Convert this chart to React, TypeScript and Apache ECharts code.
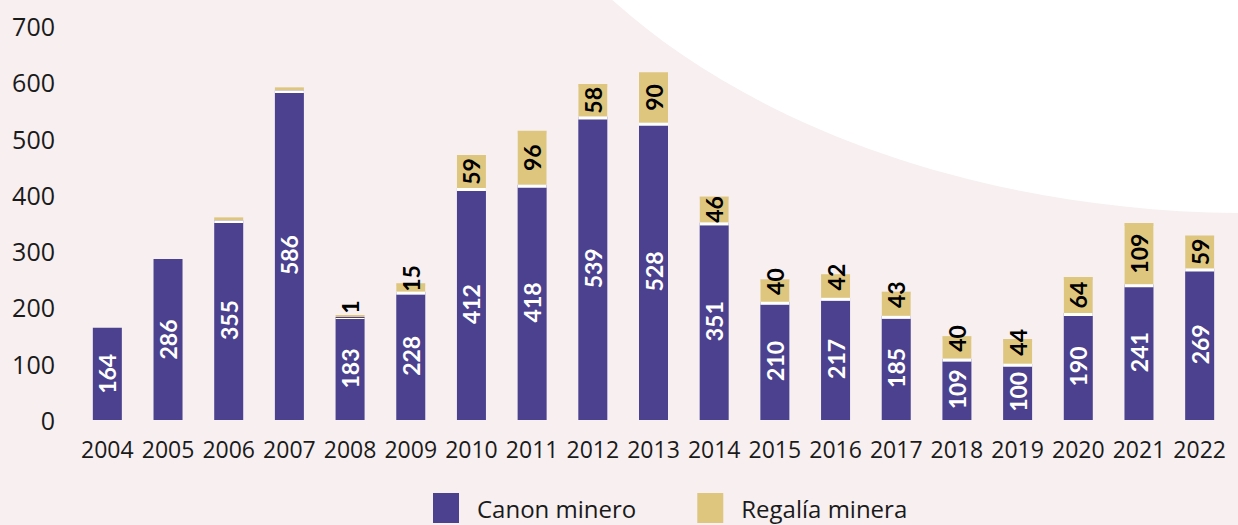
import React, { useEffect, useRef } from "react";
import * as echarts from "echarts";

const years = ["2004", "2005", "2006", "2007", "2008", "2009", "2010", "2011", "2012", "2013", "2014", "2015", "2016", "2017", "2018", "2019", "2020", "2021", "2022"];
const canonMinero = [164, 286, 355, 586, 183, 228, 412, 418, 539, 528, 351, 210, 217, 185, 109, 100, 190, 241, 269];
const regaliaMinera: (number | null)[] = [null, null, 5, 5, 1, 15, 59, 96, 58, 90, 46, 40, 42, 43, 40, 44, 64, 109, 59];
const unlabelledRegalia = ["2006", "2007"];
const yTicks = { min: 0, max: 700, interval: 100 };

const PURPLE = "#4b418f";
const TAN = "#dfc67f";
const BG = "#f7eff0";
const FONT = "'Open Sans', sans-serif";
const LABEL_FONT = "Lato, sans-serif";

export default function App() {
  const ref = useRef<HTMLDivElement>(null);
  useEffect(() => {
    if (!ref.current) return;
    const chart = echarts.init(ref.current, undefined, { renderer: "svg" });
    const regaliaData = regaliaMinera.map((v, i) => {
      if (v === null) return { value: null };
      const hide = unlabelledRegalia.includes(years[i]);
      return {
        value: v,
        label: hide
          ? { show: false }
          : { show: true, offset: v <= 44 ? [9, 0] : [0, 0] },
      };
    });
    chart.setOption({
      animation: false,
      backgroundColor: BG,
      graphic: [
        {
          type: "ellipse",
          z: 0,
          silent: true,
          shape: { cx: 1250, cy: -300, rx: 786, ry: 513 },
          style: { fill: "#ffffff" },
        },
      ],
      grid: { left: 77, right: 8, top: 26, bottom: 105, containLabel: false },
      legend: {
        left: 433,
        top: 493,
        padding: 0,
        itemWidth: 26,
        itemHeight: 30,
        itemGap: 61,
        icon: "rect",
        itemStyle: { shadowColor: "transparent", shadowOffsetY: 0, shadowBlur: 0 },
        textStyle: { fontFamily: FONT, fontSize: 24, lineHeight: 24, color: "#1a1a1a", padding: [0, 0, 0, 13] },
        data: ["Canon minero", "Regalía minera"],
      },
      xAxis: {
        type: "category",
        data: years,
        axisLine: { show: false },
        axisTick: { show: false },
        axisLabel: { fontFamily: FONT, fontSize: 23, color: "#1a1a1a", margin: 17, interval: 0 },
      },
      yAxis: {
        type: "value",
        min: yTicks.min,
        max: yTicks.max,
        interval: yTicks.interval,
        axisLine: { show: false },
        axisTick: { show: false },
        splitLine: { show: false },
        axisLabel: { fontFamily: FONT, fontSize: 25, color: "#1a1a1a", margin: 22 },
      },
      series: [
        {
          name: "Canon minero",
          type: "bar",
          stack: "total",
          barWidth: 29,
          data: canonMinero,
          itemStyle: { color: PURPLE },
          label: {
            show: true,
            position: "inside",
            rotate: 90,
            align: "center",
            verticalAlign: "middle",
            color: "#ffffff",
            fontFamily: LABEL_FONT,
            fontWeight: "bold",
            fontSize: 23,
          },
        },
        {
          name: "Regalía minera",
          type: "bar",
          stack: "total",
          barWidth: 29,
          barMinHeight: 2,
          data: regaliaData,
          itemStyle: { color: TAN, shadowColor: "#ffffff", shadowOffsetY: 3, shadowBlur: 0 },
          label: {
            show: true,
            position: "inside",
            rotate: 90,
            align: "center",
            verticalAlign: "middle",
            color: "#000000",
            fontFamily: LABEL_FONT,
            fontWeight: "bold",
            fontSize: 23,
          },
        },
      ],
    });
    return () => chart.dispose();
  }, []);
  return (
    <div
      ref={ref}
      style={{ position: "absolute", left: 0, top: 0, width: 1238, height: 525 }}
    />
  );
}
